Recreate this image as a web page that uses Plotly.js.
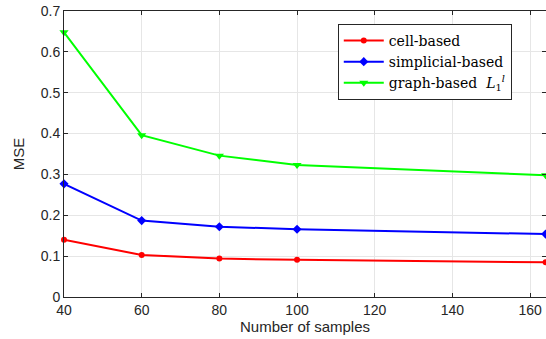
<!DOCTYPE html>
<html><head><meta charset="utf-8">
<script src="https://cdn.plot.ly/plotly-3.0.1.min.js"></script>
<style>html,body{margin:0;padding:0;overflow:hidden;background:#fff}</style>
</head><body>
<div id="chart" style="width:546px;height:339px"></div>
<script>
const samples = [40, 60, 80, 100, 164];
const cellBased = [0.140, 0.103, 0.094, 0.091, 0.085];
const simplicialBased = [0.277, 0.187, 0.172, 0.166, 0.154];
const graphBased = [0.648, 0.396, 0.346, 0.323, 0.298];
const seriesNames = ['cell-based', 'simplicial-based', 'graph-based  <i>L</i><sub>1</sub><sup><i>l</i></sup>'];

const mk = (y, name, color, symbol, size) => ({
  x: samples, y: y, name: name, type: 'scatter', mode: 'lines+markers',
  line: {color: color, width: 2},
  marker: {color: color, symbol: symbol, size: size},
  cliponaxis: false
});
const data = [
  mk(cellBased, seriesNames[0], '#ff0000', 'circle', 6),
  mk(simplicialBased, seriesNames[1], '#0000ff', 'diamond', 7),
  mk(graphBased, seriesNames[2], '#00ff00', 'triangle-down', 8)
];
const layout = {
  width: 546, height: 339,
  margin: {l: 64, r: 0, t: 11, b: 42},
  paper_bgcolor: '#fff', plot_bgcolor: '#fff',
  font: {family: 'Liberation Sans, Arial, sans-serif', size: 14, color: '#262626'},
  showlegend: true,
  legend: {
    x: 0.568, y: 0.955, xanchor: 'left', yanchor: 'top',
    bgcolor: '#fff', bordercolor: '#262626', borderwidth: 1,
    font: {family: 'DejaVu Serif, Liberation Serif, serif', size: 14, color: '#000'},
    tracegroupgap: 0, itemwidth: 40
  },
  xaxis: {
    range: [40, 164.1], tickvals: [40, 60, 80, 100, 120, 140, 160],
    showgrid: true, gridcolor: '#e6e6e6', gridwidth: 1,
    showline: true, linecolor: '#262626', linewidth: 1, mirror: 'ticks',
    ticks: 'inside', ticklen: 4, tickcolor: '#262626', zeroline: false,
    title: {text: 'Number of samples', font: {size: 15}, standoff: 2},
    tickfont: {size: 14}
  },
  yaxis: {
    range: [0, 0.7], tickvals: [0, 0.1, 0.2, 0.3, 0.4, 0.5, 0.6, 0.7],
    ticktext: ['0', '0.1', '0.2', '0.3', '0.4', '0.5', '0.6', '0.7'],
    showgrid: true, gridcolor: '#e6e6e6', gridwidth: 1,
    showline: true, linecolor: '#262626', linewidth: 1, mirror: 'ticks',
    ticks: 'inside', ticklen: 4, tickcolor: '#262626', zeroline: false,
    title: {text: 'MSE', font: {size: 15}, standoff: 12},
    tickfont: {size: 14}
  }
};
Plotly.newPlot('chart', data, layout, {displayModeBar: false, staticPlot: true});
</script>
</body></html>
